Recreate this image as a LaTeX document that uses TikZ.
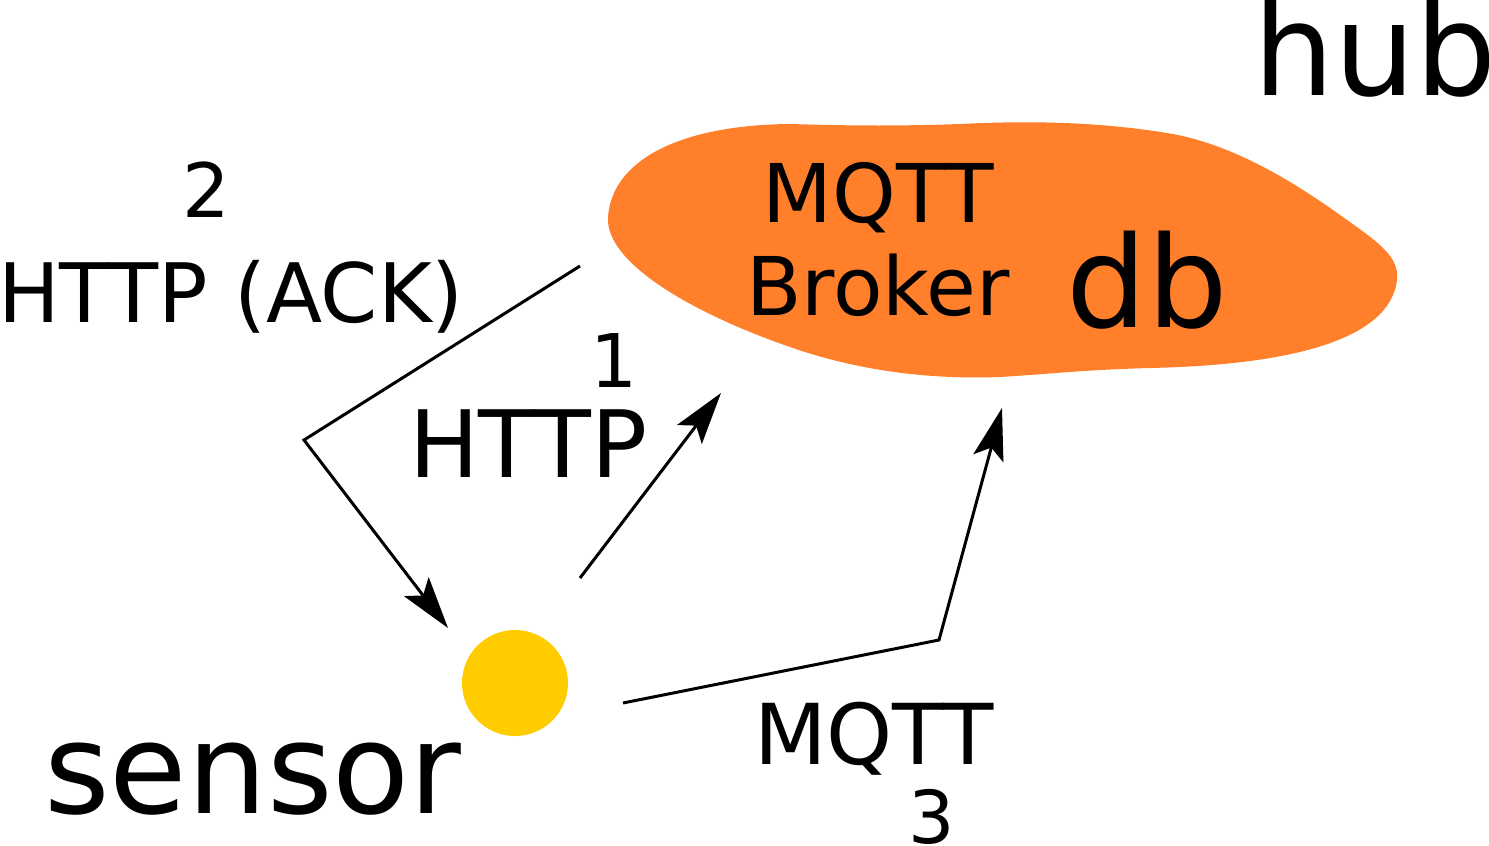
\documentclass[tikz,border=0pt]{standalone}
\usepackage{fontspec}
\setmainfont{DejaVu Sans}
\usetikzlibrary{arrows.meta}
\definecolor{blob}{HTML}{FF7F2A}
\definecolor{dot}{HTML}{FFCC00}
\tikzset{
  lbl/.style={anchor=base,inner sep=0pt,outer sep=0pt},
  conn/.style={line width=1.5pt,-{Stealth[length=26pt,width=15.5pt,inset=5.5pt]}}
}
\newcommand{\fs}[1]{\fontsize{#1}{#1}\selectfont}
\begin{document}
\begin{tikzpicture}[x=0.5pt,y=-0.5pt]
\useasboundingbox (0,0) rectangle (1489,846);
% hub blob
\fill[blob] (608,217) .. controls (612,160) and (680,125) .. (790,124)
  .. controls (860,126) and (900,126) .. (960,124)
  .. controls (1040,120) and (1105,123) .. (1167,133)
  .. controls (1230,143) and (1290,180) .. (1333,210)
  .. controls (1375,240) and (1400,255) .. (1397,280)
  .. controls (1390,340) and (1290,365) .. (1150,368)
  .. controls (1080,370) and (1050,374) .. (1000,377)
  .. controls (920,380) and (850,368) .. (790,347)
  .. controls (700,316) and (605,265) .. (608,217) -- cycle;
% sensor dot
\node[circle,fill=dot,minimum size=53pt,inner sep=0pt] (sensordot) at (515,683) {};
% labels
\node[lbl,font=\fs{64}] (hub) at (1375,95) {hub};
\node[lbl,font=\fs{63}] (sensor) at (253,813) {sensor};
\node[lbl,font=\fs{63.5}] (db) at (1147,327) {db};
\node[lbl,font=\fs{40.5}] (brokerA) at (878,222) {MQTT};
\node[lbl,font=\fs{40.5}] (brokerB) at (878,315) {Broker};
\node[lbl,font=\fs{37.5}] (n2) at (206,217) {2};
\node[lbl,font=\fs{41}] (ack) at (231,322) {HTTP (ACK)};
\node[lbl,font=\fs{37}] (n1) at (614,387) {1};
\node[lbl,font=\fs{46.5}] (http) at (528,477) {HTTP};
\node[lbl,font=\fs{42}] (mqtt) at (874,764) {MQTT};
\node[lbl,font=\fs{36.5}] (n3) at (932,843) {3};
% connector points
\coordinate (a2s) at (580,266);
\coordinate (a2c) at (304,440);
\coordinate (a2e) at (448,628);
\coordinate (a1s) at (580,578);
\coordinate (a1e) at (721,393);
\coordinate (a3s) at (623,703);
\coordinate (a3c) at (939,640);
\coordinate (a3e) at (1002,408);
\draw[conn] (a2s) -- (a2c) -- (a2e);
\draw[conn] (a1s) -- (a1e);
\draw[conn] (a3s) -- (a3c) -- (a3e);
\end{tikzpicture}
\end{document}
